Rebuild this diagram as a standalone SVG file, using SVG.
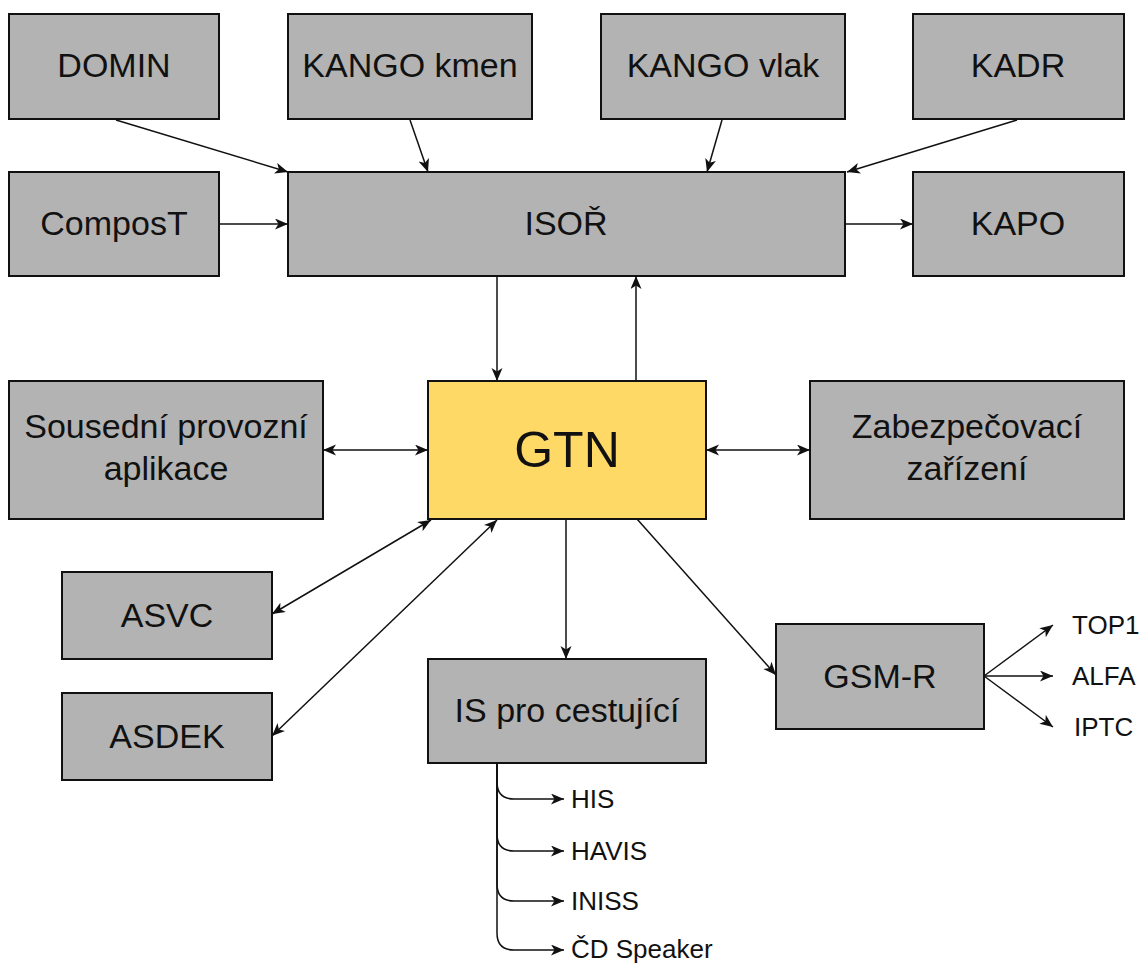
<svg xmlns="http://www.w3.org/2000/svg" width="1145" height="965" viewBox="0 0 1145 965">
<style>
.box{fill:#b3b3b3;stroke:#111;stroke-width:2}
.main{fill:#ffd966;stroke:#111;stroke-width:2}
.lbl{font-family:"Liberation Sans",Arial,sans-serif;font-size:34px;fill:#111;text-anchor:middle}
.big{font-family:"Liberation Sans",Arial,sans-serif;font-size:50px;fill:#111;text-anchor:middle}
.sm{font-family:"Liberation Sans",Arial,sans-serif;font-size:26px;fill:#111}
.ln{fill:none;stroke:#111;stroke-width:1.5}
</style>
<defs>
<marker id="ah" markerUnits="userSpaceOnUse" markerWidth="14" markerHeight="12" refX="13" refY="5.5" orient="auto-start-reverse" viewBox="0 0 14 12">
<path d="M0,0 L13,5.5 L0,11 L3.5,5.5 Z" fill="#111"/>
</marker>
</defs>
<rect width="1145" height="965" fill="#ffffff"/>
<g id="connectors">
<path class="ln" d="M116,120 L288,172" marker-end="url(#ah)"/>
<path class="ln" d="M410,120 L428,172" marker-end="url(#ah)"/>
<path class="ln" d="M722,120 L707,172" marker-end="url(#ah)"/>
<path class="ln" d="M1017,120 L847,172" marker-end="url(#ah)"/>
<path class="ln" d="M219,224 L288,224" marker-end="url(#ah)"/>
<path class="ln" d="M845,224 L913,224" marker-end="url(#ah)"/>
<path class="ln" d="M497,276 L497,381" marker-end="url(#ah)"/>
<path class="ln" d="M636,381 L636,276" marker-end="url(#ah)"/>
<path class="ln" d="M323,450 L428,450" marker-start="url(#ah)" marker-end="url(#ah)"/>
<path class="ln" d="M706,450 L810,450" marker-start="url(#ah)" marker-end="url(#ah)"/>
<path class="ln" d="M272,614 L431,520" marker-start="url(#ah)" marker-end="url(#ah)"/>
<path class="ln" d="M272,736 L497,520" marker-start="url(#ah)" marker-end="url(#ah)"/>
<path class="ln" d="M566,519 L566,659" marker-end="url(#ah)"/>
<path class="ln" d="M637,519 L776,675" marker-end="url(#ah)"/>
<path class="ln" d="M984,676 L1053,625" marker-end="url(#ah)"/>
<path class="ln" d="M984,676 L1053,676" marker-end="url(#ah)"/>
<path class="ln" d="M984,676 L1053,727" marker-end="url(#ah)"/>
<path class="ln" d="M497,763 V782 Q497,799 514,799 H564" marker-end="url(#ah)"/>
<path class="ln" d="M497,763 V834 Q497,851 514,851 H564" marker-end="url(#ah)"/>
<path class="ln" d="M497,763 V884 Q497,901 514,901 H564" marker-end="url(#ah)"/>
<path class="ln" d="M497,763 V933 Q497,950 514,950 H564" marker-end="url(#ah)"/>
</g>
<g id="n-domin"><rect class="box" x="9" y="14" width="210" height="105"/><text class="lbl" x="114" y="77">DOMIN</text></g>
<g id="n-kango-kmen"><rect class="box" x="288" y="14" width="244" height="105"/><text class="lbl" x="410" y="77">KANGO kmen</text></g>
<g id="n-kango-vlak"><rect class="box" x="601" y="14" width="244" height="105"/><text class="lbl" x="723" y="77">KANGO vlak</text></g>
<g id="n-kadr"><rect class="box" x="913" y="14" width="211" height="105"/><text class="lbl" x="1018" y="77">KADR</text></g>
<g id="n-compost"><rect class="box" x="9" y="172" width="210" height="104"/><text class="lbl" x="114" y="235">ComposT</text></g>
<g id="n-isor"><rect class="box" x="288" y="172" width="557" height="104"/><text class="lbl" x="566" y="235">ISOŘ</text></g>
<g id="n-kapo"><rect class="box" x="913" y="172" width="211" height="104"/><text class="lbl" x="1018" y="235">KAPO</text></g>
<g id="n-sousedni"><rect class="box" x="9" y="381" width="314" height="138"/><text class="lbl" x="166" y="438">Sousední provozní</text><text class="lbl" x="166" y="480">aplikace</text></g>
<g id="n-gtn"><rect class="main" x="428" y="381" width="278" height="138"/><text class="big" x="567" y="467">GTN</text></g>
<g id="n-zab"><rect class="box" x="810" y="381" width="314" height="138"/><text class="lbl" x="967" y="438">Zabezpečovací</text><text class="lbl" x="967" y="480">zařízení</text></g>
<g id="n-asvc"><rect class="box" x="62" y="572" width="210" height="87"/><text class="lbl" x="167" y="627">ASVC</text></g>
<g id="n-asdek"><rect class="box" x="62" y="693" width="210" height="87"/><text class="lbl" x="167" y="748">ASDEK</text></g>
<g id="n-is"><rect class="box" x="428" y="659" width="278" height="104"/><text class="lbl" x="567" y="722">IS pro cestující</text></g>
<g id="n-gsmr"><rect class="box" x="776" y="624" width="208" height="105"/><text class="lbl" x="880" y="688">GSM-R</text></g>
<g id="n-top1"><text class="sm" x="1072" y="634">TOP1</text></g>
<g id="n-alfa"><text class="sm" x="1072" y="685">ALFA</text></g>
<g id="n-iptc"><text class="sm" x="1074" y="736">IPTC</text></g>
<g id="n-his"><text class="sm" x="571" y="808">HIS</text></g>
<g id="n-havis"><text class="sm" x="571" y="860">HAVIS</text></g>
<g id="n-iniss"><text class="sm" x="571" y="910">INISS</text></g>
<g id="n-cd"><text class="sm" x="571" y="958">ČD Speaker</text></g>
</svg>
